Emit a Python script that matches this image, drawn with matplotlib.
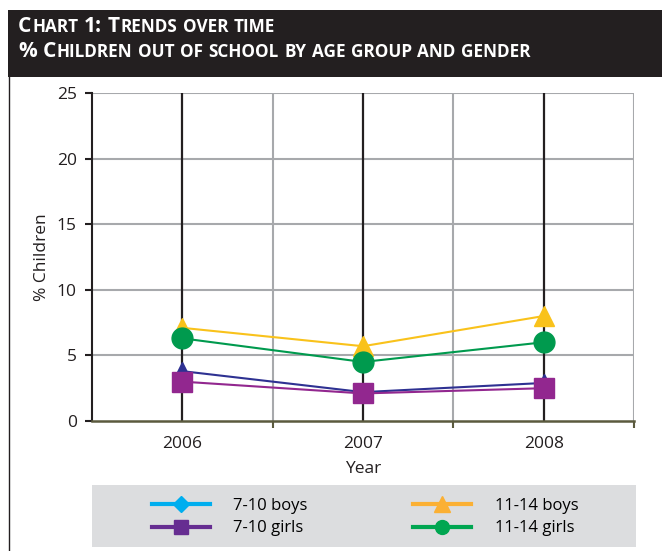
import itertools
import matplotlib
matplotlib.use("Agg")
import matplotlib.pyplot as plt
from matplotlib.lines import Line2D
from matplotlib.patches import Rectangle

plt.rcParams['font.family'] = ['Open Sans', 'DejaVu Sans']

# data
years = ['2006', '2007', '2008']
boys_7_10 = [3.8, 2.2, 2.9]
girls_7_10 = [3.0, 2.1, 2.5]
boys_11_14 = [7.1, 5.7, 8.0]
girls_11_14 = [6.3, 4.5, 6.0]
y_ticks = [0, 5, 10, 15, 20, 25]

W, H = 662, 551
fig = plt.figure(figsize=(W / 100, H / 100), dpi=100)

# dark title band + left frame line
fig.add_artist(Rectangle((8 / W, 1 - 77 / H), 1, 67 / H, transform=fig.transFigure,
                         facecolor='#231f20', edgecolor='none'))
fig.add_artist(Line2D([8.5 / W, 8.5 / W], [0, 1 - 77 / H], transform=fig.transFigure,
                      color='#231f20', lw=1))


def small_caps(x0, y, text, big=15, small=12.3):
    r = fig.canvas.get_renderer()
    kw = dict(color='white', fontweight='bold', va='baseline', ha='left')
    a = fig.text(0, 0, 'N N', size=small, **kw)
    b = fig.text(0, 0, 'NN', size=small, **kw)
    sp = a.get_window_extent(r).width - b.get_window_extent(r).width
    a.remove()
    b.remove()
    x = x0
    for word in text.split(' '):
        for low, chars in itertools.groupby(word, key=lambda c: c.islower()):
            s = ''.join(chars)
            t = fig.text(x / W, 1 - y / H, s.upper(), size=small if low else big, **kw)
            x += t.get_window_extent(r).width + 1
        x += sp


small_caps(18, 32, 'Chart 1: Trends over time')
small_caps(18, 57, '% Children out of school by age group and gender')

ax = fig.add_axes([92 / W, 1 - 421 / H, (634 - 92) / W, (421 - 93) / H])
x = list(range(len(years)))

ax.set_xlim(-0.5, 2.5)
ax.set_ylim(0, 25)
for v in y_ticks[1:]:
    ax.axhline(v, color='#a7a9ac', lw=1.5, zorder=1)
for v in [0.5, 1.5, 2.5]:
    ax.axvline(v, color='#a7a9ac', lw=1.5, zorder=1)
for v in x:
    ax.axvline(v, color='#231f20', lw=1.6, zorder=2)

ax.plot(x, boys_11_14, color='#f9c21b', lw=1.5, marker='^', ms=15, zorder=3)
ax.plot(x, girls_11_14, color='#009a4e', lw=1.5, marker='o', ms=15, zorder=4)
ax.plot(x, boys_7_10, color='#2e3192', lw=1.5, marker='^', ms=13, zorder=3)
ax.plot(x, girls_7_10, color='#92278f', lw=1.5, marker='s', ms=15, zorder=4)

for s in ['top', 'right']:
    ax.spines[s].set_visible(False)
ax.spines['left'].set_color('#231f20')
ax.spines['left'].set_linewidth(1.5)
ax.spines['bottom'].set_color('#5b5a3e')
ax.spines['bottom'].set_linewidth(1.8)

ax.set_xticks(x)
ax.set_xticklabels(years)
ax.set_xticks([0.5, 1.5, 2.5], minor=True)
ax.tick_params(axis='x', which='major', length=0, pad=11, labelsize=12.5, colors='#231f20')
ax.tick_params(axis='x', which='minor', length=5, width=1.5, color='#5b5a3e')
ax.set_yticks(y_ticks)
ax.tick_params(axis='y', length=5, width=1.5, labelsize=12.5, colors='#231f20', pad=6)

ax.set_xlabel('Year', fontsize=12.5, color='#231f20', labelpad=6)
ax.set_ylabel('% Children', fontsize=12.5, color='#231f20', labelpad=5)

# legend panel
fig.add_artist(Rectangle((92 / W, 1 - 547 / H), 544 / W, 62 / H, transform=fig.transFigure,
                         facecolor='#dcdddf', edgecolor='none'))
handles = [
    Line2D([], [], color='#00aeef', lw=3, marker='D', ms=8),
    Line2D([], [], color='#662d91', lw=3, marker='s', ms=10),
    Line2D([], [], color='#fbb034', lw=3, marker='^', ms=11),
    Line2D([], [], color='#00a651', lw=3, marker='o', ms=10),
]
labels = ['7-10 boys', '7-10 girls', '11-14 boys', '11-14 girls']
fig.legend(handles, labels, ncol=2, frameon=False, loc='center',
           bbox_to_anchor=(365 / W, 1 - 517 / H), fontsize=12,
           handlelength=3.5, handletextpad=1.4, columnspacing=6.3, labelspacing=0.4)

fig.savefig('out.png', dpi=100)
